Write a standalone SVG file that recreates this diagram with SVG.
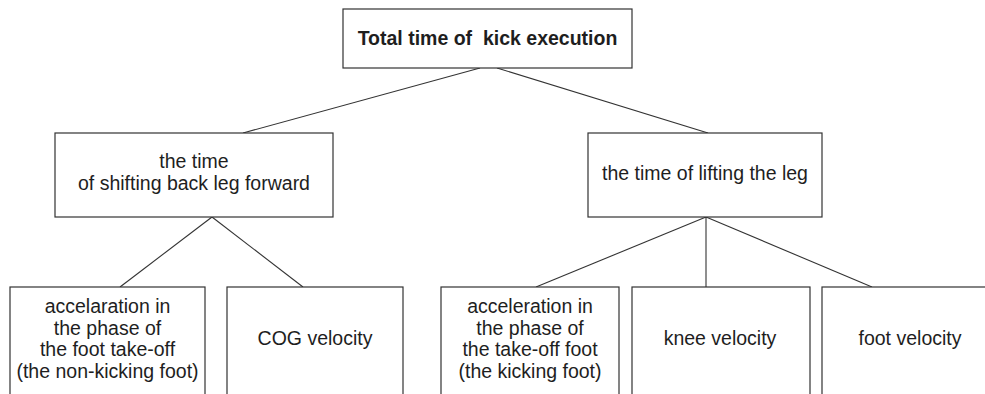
<svg xmlns="http://www.w3.org/2000/svg" width="985" height="394" viewBox="0 0 985 394">
<style>
.box{fill:#fff;stroke:#333;stroke-width:1.2}
.lbl{font-family:"Liberation Sans",Arial,sans-serif;font-size:19.5px;fill:#1e1e1e;text-anchor:middle}
.b{font-weight:bold}
.con line{stroke:#333;stroke-width:1.1}
</style>
<rect width="985" height="394" fill="#fff"/>
<g class="con" id="connectors">
<line x1="480" y1="68" x2="243" y2="133"/>
<line x1="497" y1="68" x2="708" y2="133"/>
<line x1="212" y1="217" x2="120" y2="287"/>
<line x1="212" y1="217" x2="303" y2="287"/>
<line x1="706" y1="217" x2="536" y2="287"/>
<line x1="706" y1="217" x2="706" y2="287"/>
<line x1="706" y1="217" x2="872" y2="287"/>
</g>
<g id="root">
<rect class="box" x="343" y="9" width="289" height="59"/>
<text class="lbl b" x="487.5" y="45" xml:space="preserve">Total time of  kick execution</text>
</g>
<g id="shift">
<rect class="box" x="55" y="133" width="278" height="84"/>
<text class="lbl" x="194" y="168">the time</text>
<text class="lbl" x="194" y="190">of shifting back leg forward</text>
</g>
<g id="lift">
<rect class="box" x="588" y="133" width="234" height="84"/>
<text class="lbl" x="705" y="180">the time of lifting the leg</text>
</g>
<g id="acc-nonkick">
<rect class="box" x="10" y="287" width="195" height="120"/>
<text class="lbl" x="107.5" y="313">accelaration in</text>
<text class="lbl" x="107.5" y="334.7">the phase of</text>
<text class="lbl" x="107.5" y="356.3">the foot take-off</text>
<text class="lbl" x="107.5" y="378">(the non-kicking foot)</text>
</g>
<g id="cog">
<rect class="box" x="227" y="287" width="176" height="120"/>
<text class="lbl" x="315" y="345">COG velocity</text>
</g>
<g id="acc-kick">
<rect class="box" x="441" y="287" width="178" height="120"/>
<text class="lbl" x="530" y="313">acceleration in</text>
<text class="lbl" x="530" y="334.7">the phase of</text>
<text class="lbl" x="530" y="356.3">the take-off foot</text>
<text class="lbl" x="530" y="378">(the kicking foot)</text>
</g>
<g id="knee">
<rect class="box" x="632" y="287" width="178" height="120"/>
<text class="lbl" x="720" y="345">knee velocity</text>
</g>
<g id="foot">
<rect class="box" x="822" y="287" width="180" height="120"/>
<text class="lbl" x="910" y="345">foot velocity</text>
</g>
</svg>
